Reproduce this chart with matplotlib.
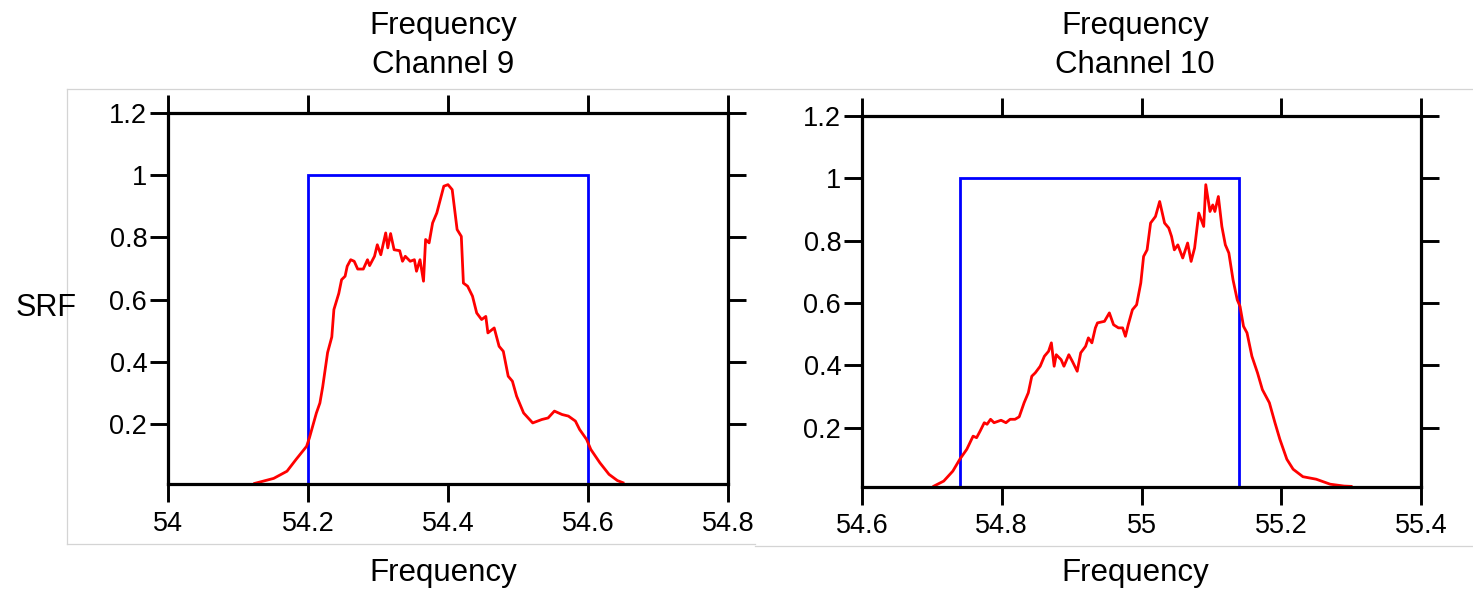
import matplotlib
matplotlib.use("Agg")
import matplotlib.pyplot as plt
from matplotlib.lines import Line2D

plt.rcParams['font.family'] = ['Liberation Sans', 'DejaVu Sans']

# Channel 9 measured spectral response
freq9 = [54.124, 54.151, 54.170, 54.183, 54.198, 54.202, 54.212, 54.217, 54.221, 54.228,
         54.234, 54.237, 54.244, 54.248, 54.253, 54.256, 54.261, 54.266, 54.271, 54.279,
         54.285, 54.288, 54.295, 54.299, 54.304, 54.311, 54.314, 54.318, 54.323, 54.331,
         54.335, 54.339, 54.346, 54.352, 54.355, 54.360, 54.365, 54.368, 54.373, 54.378,
         54.384, 54.389, 54.394, 54.400, 54.406, 54.413, 54.419, 54.422, 54.428, 54.435,
         54.441, 54.448, 54.454, 54.457, 54.466, 54.473, 54.479, 54.486, 54.492, 54.498,
         54.508, 54.521, 54.534, 54.543, 54.552, 54.563, 54.572, 54.582, 54.588, 54.598,
         54.604, 54.617, 54.630, 54.642, 54.650]
srf9 = [0.010, 0.026, 0.049, 0.087, 0.129, 0.156, 0.236, 0.268, 0.320, 0.430,
        0.480, 0.568, 0.620, 0.664, 0.675, 0.707, 0.728, 0.723, 0.698, 0.698,
        0.728, 0.709, 0.739, 0.776, 0.744, 0.814, 0.766, 0.812, 0.760, 0.757,
        0.723, 0.739, 0.723, 0.728, 0.691, 0.728, 0.659, 0.793, 0.782, 0.846,
        0.878, 0.921, 0.964, 0.969, 0.953, 0.825, 0.803, 0.653, 0.643, 0.611,
        0.557, 0.536, 0.546, 0.493, 0.509, 0.450, 0.434, 0.354, 0.338, 0.290,
        0.236, 0.204, 0.215, 0.220, 0.242, 0.231, 0.226, 0.210, 0.183, 0.151,
        0.119, 0.076, 0.039, 0.019, 0.012]
band9 = [54.2, 54.6]

# Channel 10 measured spectral response
freq10 = [54.703, 54.717, 54.730, 54.740, 54.750, 54.759, 54.764, 54.769, 54.775, 54.779,
          54.784, 54.789, 54.799, 54.806, 54.812, 54.819, 54.825, 54.832, 54.838, 54.843,
          54.848, 54.855, 54.861, 54.867, 54.871, 54.875, 54.878, 54.885, 54.889, 54.896,
          54.901, 54.908, 54.913, 54.920, 54.924, 54.929, 54.934, 54.937, 54.947, 54.954,
          54.960, 54.967, 54.973, 54.977, 54.981, 54.987, 54.993, 54.999, 55.003, 55.008,
          55.013, 55.020, 55.026, 55.033, 55.039, 55.043, 55.047, 55.052, 55.059, 55.066,
          55.071, 55.076, 55.082, 55.089, 55.092, 55.098, 55.102, 55.105, 55.110, 55.115,
          55.120, 55.125, 55.131, 55.137, 55.141, 55.146, 55.151, 55.158, 55.166, 55.173,
          55.183, 55.191, 55.198, 55.208, 55.217, 55.231, 55.250, 55.270, 55.290, 55.300]
srf10 = [0.013, 0.029, 0.061, 0.099, 0.131, 0.173, 0.168, 0.189, 0.216, 0.211,
         0.227, 0.216, 0.224, 0.216, 0.227, 0.227, 0.235, 0.280, 0.312, 0.365,
         0.376, 0.397, 0.429, 0.445, 0.472, 0.397, 0.434, 0.418, 0.397, 0.434,
         0.413, 0.381, 0.440, 0.461, 0.488, 0.472, 0.520, 0.536, 0.541, 0.568,
         0.530, 0.520, 0.520, 0.493, 0.530, 0.578, 0.594, 0.664, 0.749, 0.770,
         0.856, 0.877, 0.925, 0.856, 0.840, 0.813, 0.770, 0.786, 0.744, 0.792,
         0.733, 0.776, 0.888, 0.845, 0.979, 0.893, 0.914, 0.893, 0.941, 0.845,
         0.786, 0.760, 0.674, 0.610, 0.589, 0.525, 0.504, 0.429, 0.376, 0.322,
         0.280, 0.216, 0.163, 0.099, 0.067, 0.043, 0.035, 0.019, 0.013, 0.012]
band10 = [54.74, 55.14]

yticks = [0.2, 0.4, 0.6, 0.8, 1.0, 1.2]
ytick_labels = ["0.2", "0.4", "0.6", "0.8", "1", "1.2"]
xticks9 = [54.0, 54.2, 54.4, 54.6, 54.8]
xtick_labels9 = ["54", "54.2", "54.4", "54.6", "54.8"]
xticks10 = [54.6, 54.8, 55.0, 55.2, 55.4]
xtick_labels10 = ["54.6", "54.8", "55", "55.2", "55.4"]

W, H = 1473, 591
fig = plt.figure(figsize=(W / 100, H / 100), dpi=100)


def px_rect(x0, y0, x1, y1):
    return [x0 / W, 1 - y1 / H, (x1 - x0) / W, (y1 - y0) / H]


def panel(rect, freq, srf, band, xticks, xlabels, ymin):
    ax = fig.add_axes(rect)
    ax.plot([band[0], band[0], band[1], band[1]], [0, 1, 1, 0],
            color="#0000ff", lw=2.0, solid_joinstyle="miter")
    ax.plot(freq, srf, color="#ff0000", lw=2.0)
    ax.set_xlim(xticks[0], xticks[-1])
    ax.set_ylim(ymin, 1.2)
    ax.set_xticks(xticks)
    ax.set_xticklabels(xlabels)
    ax.set_yticks(yticks)
    ax.set_yticklabels(ytick_labels)
    for s in ax.spines.values():
        s.set_linewidth(2.3)
    ax.tick_params(axis="both", direction="out", length=13, width=2.1,
                   top=True, right=True, labeltop=False, labelright=False,
                   labelsize=19.5)
    ax.tick_params(axis="x", pad=6)
    ax.tick_params(axis="y", pad=2)
    return ax


ax9 = panel(px_rect(168, 112.7, 728, 484.3), freq9, srf9, band9,
            xticks9, xtick_labels9, 0.007)
ax10 = panel(px_rect(862, 115.7, 1421, 487), freq10, srf10, band10,
             xticks10, xtick_labels10, 0.01)

# panel titles and axis labels
for cx, name in [(443, "Channel 9"), (1135, "Channel 10")]:
    fig.text(cx / W, 1 - 34 / H, "Frequency", ha="center", va="baseline", fontsize=22.5)
    fig.text(cx / W, 1 - 73 / H, name, ha="center", va="baseline", fontsize=22.5)
    fig.text(cx / W, 1 - 581 / H, "Frequency", ha="center", va="baseline", fontsize=22.5)

fig.text(46 / W, 1 - 316 / H, "SRF", ha="center", va="baseline", fontsize=22)

# light frame around the panels
frame = dict(color="#d4d4d4", lw=0.9, transform=fig.transFigure)
segments = [((67, 1473), (89, 89)), ((67, 67), (89, 544)),
            ((67, 755), (544, 544)), ((755, 1473), (545.5, 545.5))]
for xs, ys in segments:
    fig.add_artist(Line2D([x / W for x in xs], [1 - y / H for y in ys], **frame))

fig.savefig("out.png", dpi=100)
